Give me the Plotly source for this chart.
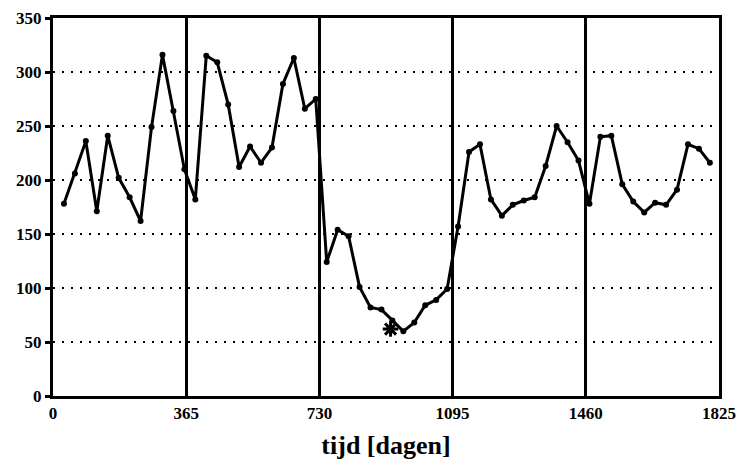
import plotly.graph_objects as go

days = [30 * k for k in range(1, 61)]
values = [178, 206, 236, 171, 241, 202, 184, 162, 249, 316,
          264, 210, 182, 315, 309, 270, 212, 231, 216, 230,
          289, 313, 266, 275, 124, 154, 148, 101, 82, 80,
          70, 60, 68, 84, 89, 99, 157, 226, 233, 182,
          167, 177, 181, 184, 213, 250, 235, 218, 178, 240,
          241, 196, 180, 170, 179, 177, 191, 233, 229, 216]
star_x = [925]
star_y = [62]
x_ticks = [0, 365, 730, 1095, 1460, 1825]
y_ticks = [0, 50, 100, 150, 200, 250, 300, 350]

fig = go.Figure()
fig.add_trace(go.Scatter(x=days, y=values, mode="lines+markers",
                         line=dict(color="black", width=3),
                         marker=dict(color="black", size=6),
                         showlegend=False, cliponaxis=False))
fig.add_trace(go.Scatter(x=star_x, y=star_y, mode="markers",
                         marker=dict(symbol="asterisk", color="black", size=13,
                                     line=dict(color="black", width=3)),
                         showlegend=False))

font = dict(family="Liberation Serif", color="black", size=17, weight="bold")
fig.update_layout(
    width=747, height=474,
    margin=dict(l=45, r=36, t=10, b=86),
    paper_bgcolor="white", plot_bgcolor="white",
    font=font,
    xaxis=dict(range=[0, 1825], tickvals=x_ticks, ticktext=[str(v) for v in x_ticks],
               showgrid=True, gridcolor="black", gridwidth=3,
               showline=True, linecolor="black", linewidth=3, mirror=True,
               ticks="", zeroline=False, tickfont=font, automargin=False,
               ticklabeloverflow="allow",
               title=dict(text="tijd [dagen]",
                          font=dict(family="Liberation Serif", size=26,
                                    color="black", weight="bold"),
                          standoff=14)),
    yaxis=dict(range=[0, 350], tickvals=y_ticks,
               showgrid=True, gridcolor="black", gridwidth=2, griddash="2px,7px",
               showline=True, linecolor="black", linewidth=3, mirror=True,
               ticks="outside", ticklen=5, tickwidth=3, tickcolor="black",
               zeroline=False, tickfont=font, automargin=False,
               ticklabeloverflow="allow", ticklabelstandoff=0),
)
fig.write_html("out.html")
